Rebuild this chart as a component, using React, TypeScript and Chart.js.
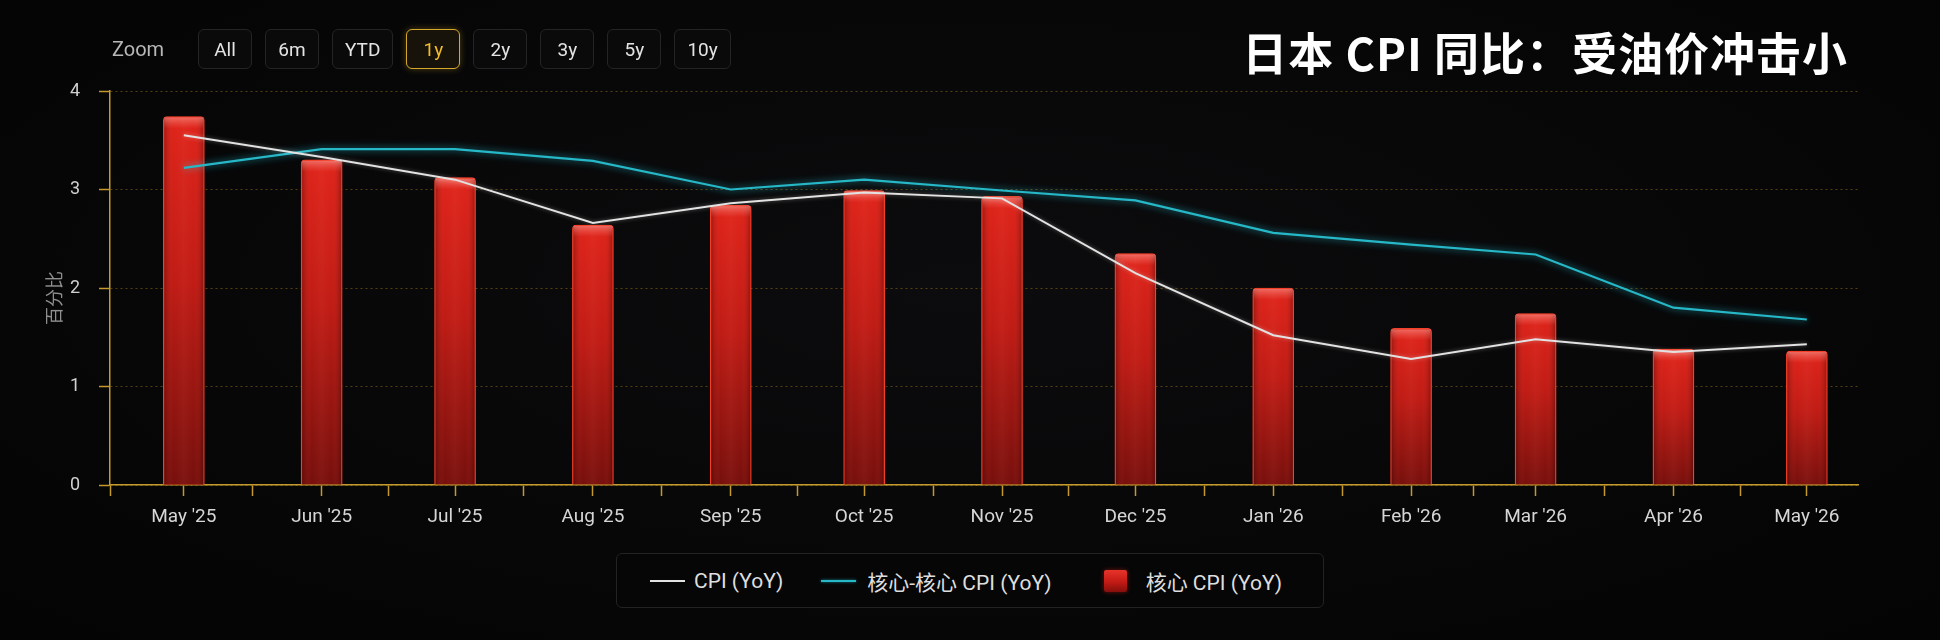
import React, { useEffect, useRef } from "react";
import { Chart, registerables } from "chart.js";

Chart.register(...registerables);

// ---------- data ----------
const categories = [
  "May '25", "Jun '25", "Jul '25", "Aug '25", "Sep '25", "Oct '25", "Nov '25",
  "Dec '25", "Jan '26", "Feb '26", "Mar '26", "Apr '26", "May '26",
];
const monthDates = [
  "2025-05-01", "2025-06-01", "2025-07-01", "2025-08-01", "2025-09-01", "2025-10-01",
  "2025-11-01", "2025-12-01", "2026-01-01", "2026-02-01", "2026-03-01", "2026-04-01",
  "2026-05-01",
];
const cpiYoY = [3.55, 3.33, 3.1, 2.66, 2.86, 2.97, 2.91, 2.15, 1.52, 1.28, 1.48, 1.35, 1.43];
const coreCoreYoY = [3.22, 3.41, 3.41, 3.29, 3.0, 3.1, 2.99, 2.89, 2.56, 2.44, 2.34, 1.8, 1.68];
const coreYoY = [3.74, 3.3, 3.12, 2.64, 2.84, 2.99, 2.93, 2.35, 2.0, 1.59, 1.74, 1.38, 1.36];
const yTicks = [0, 1, 2, 3, 4];
const seriesNames = ["CPI (YoY)", "核心-核心 CPI (YoY)", "核心 CPI (YoY)"];
const zoomButtons = ["All", "6m", "YTD", "1y", "2y", "3y", "5y", "10y"];
const activeZoom = "1y";
const titleText = "日本 CPI 同比：受油价冲击小";
const yAxisTitle = "百分比";

// axis range in days relative to first month (extra room left / right)
const X_PAD_LEFT = 16.6;
const X_PAD_RIGHT = 11.5;

const DAY = 86400000;
const dayIdx = monthDates.map((d) => (Date.parse(d) - Date.parse(monthDates[0])) / DAY);

const GOLD = "#c49a2c";
const WHITE_LINE = "#e2e2e2";
const TEAL = "#27b8c8";
const FONT = 'Roboto, "Noto Sans CJK SC", sans-serif';

const glowPlugin = {
  id: "glow",
  beforeDatasetDraw(chart: any, args: any) {
    const ds = chart.data.datasets[args.index];
    const ctx = chart.ctx;
    ctx.save();
    if (ds._glow) {
      ctx.shadowColor = ds._glow;
      ctx.shadowBlur = ds._glowBlur || 8;
    }
  },
  afterDatasetDraw(chart: any, args: any) {
    const ctx = chart.ctx;
    ctx.restore();
    const ds = chart.data.datasets[args.index];
    if (ds.type !== "bar") return;
    const meta = chart.getDatasetMeta(args.index);
    meta.data.forEach((el: any) => {
      const { x, y, base, width } = el.getProps(["x", "y", "base", "width"], true);
      const l = x - width / 2;
      const r = x + width / 2;
      ctx.save();
      ctx.beginPath();
      ctx.rect(l + 1, y + 1, width - 2, base - y - 1);
      ctx.clip();
      const hg = ctx.createLinearGradient(l, 0, r, 0);
      hg.addColorStop(0, "rgba(40,0,0,0.38)");
      hg.addColorStop(0.25, "rgba(255,80,60,0.04)");
      hg.addColorStop(0.5, "rgba(255,110,90,0.10)");
      hg.addColorStop(0.75, "rgba(255,80,60,0.04)");
      hg.addColorStop(1, "rgba(40,0,0,0.38)");
      ctx.fillStyle = hg;
      ctx.fillRect(l, y, width, base - y);
      const tg = ctx.createLinearGradient(0, y, 0, y + 12);
      tg.addColorStop(0, "rgba(255,190,180,0.5)");
      tg.addColorStop(1, "rgba(255,140,130,0)");
      ctx.fillStyle = tg;
      ctx.fillRect(l, y, width, 12);
      ctx.restore();
    });
  },
};

export default function App() {
  const ref = useRef<HTMLCanvasElement | null>(null);

  useEffect(() => {
    document.body.style.margin = "0";
    document.body.style.background = "#050506";
    const canvas = ref.current;
    if (!canvas) return;

    const xTickValues: number[] = [-X_PAD_LEFT];
    dayIdx.forEach((d, i) => {
      xTickValues.push(d);
      if (i < dayIdx.length - 1) xTickValues.push((d + dayIdx[i + 1]) / 2);
    });

    const chart = new Chart(canvas, {
      type: "bar",
      data: {
        datasets: [
          {
            type: "line",
            label: seriesNames[0],
            data: dayIdx.map((x, i) => ({ x, y: cpiYoY[i] })),
            borderColor: WHITE_LINE,
            borderWidth: 2,
            pointRadius: 0,
            tension: 0,
            order: 0,
            _glow: "rgba(255,255,255,0.35)",
            _glowBlur: 4,
          } as any,
          {
            type: "line",
            label: seriesNames[1],
            data: dayIdx.map((x, i) => ({ x, y: coreCoreYoY[i] })),
            borderColor: TEAL,
            borderWidth: 2.2,
            pointRadius: 0,
            tension: 0,
            order: 1,
            _glow: "rgba(40,220,240,0.7)",
            _glowBlur: 7,
          } as any,
          {
            type: "bar",
            label: seriesNames[2],
            data: dayIdx.map((x, i) => ({ x, y: coreYoY[i] })),
            barThickness: 41,
            borderColor: "#f2432c",
            borderWidth: 1.3,
            borderSkipped: "bottom",
            borderRadius: { topLeft: 4, topRight: 4, bottomLeft: 0, bottomRight: 0 },
            backgroundColor: (c: any) => {
              const ch = c.chart;
              if (!ch.chartArea || c.type !== "data" || !c.parsed) return "#c81b15";
              const top = ch.scales.y.getPixelForValue(c.parsed.y);
              const base = ch.scales.y.getPixelForValue(0);
              const g = ch.ctx.createLinearGradient(0, top, 0, base);
              g.addColorStop(0, "#de231a");
              g.addColorStop(0.45, "#bd1a14");
              g.addColorStop(1, "#700d0b");
              return g;
            },
            order: 2,
            _glow: "rgba(255,40,20,0.3)",
            _glowBlur: 8,
          } as any,
        ],
      },
      options: {
        animation: false,
        responsive: false,
        maintainAspectRatio: false,
        layout: { padding: { top: 91, right: 82, bottom: 110, left: 0 } },
        plugins: {
          legend: { display: false },
          tooltip: { enabled: false },
          title: { display: false },
        },
        scales: {
          x: {
            type: "linear",
            min: -X_PAD_LEFT,
            max: dayIdx[dayIdx.length - 1] + X_PAD_RIGHT,
            offset: false,
            afterBuildTicks: (scale: any) => {
              scale.ticks = xTickValues.map((v) => ({ value: v }));
            },
            afterFit: (scale: any) => {
              scale.height = 45;
            },
            ticks: {
              autoSkip: false,
              maxRotation: 0,
              padding: 10,
              color: "#d6d6d6",
              font: { family: FONT, size: 19 },
              callback: (v: any) => {
                const i = dayIdx.indexOf(Number(v));
                return i >= 0 ? categories[i] : "";
              },
            },
            grid: {
              display: true,
              offset: false,
              drawOnChartArea: false,
              drawTicks: true,
              tickLength: 11,
              tickColor: GOLD,
              tickWidth: 1.5,
              color: GOLD,
            },
            border: { display: true, color: GOLD, width: 1.5 },
          },
          y: {
            min: yTicks[0],
            max: yTicks[yTicks.length - 1],
            afterBuildTicks: (scale: any) => {
              scale.ticks = yTicks.map((v) => ({ value: v }));
            },
            afterFit: (scale: any) => {
              scale.width = 110;
            },
            ticks: {
              padding: 19,
              color: "#d0d0d0",
              font: { family: FONT, size: 18 },
            },
            grid: {
              color: "rgba(150,112,24,0.55)",
              lineWidth: 1,
              drawTicks: true,
              tickLength: 11,
              tickColor: GOLD,
              tickWidth: 1.5,
              tickBorderDash: [],
            },
            border: { display: true, color: GOLD, width: 1.5, dash: [2, 3] },
            title: { display: false },
          },
        },
      },
      plugins: [glowPlugin],
    } as any);

    return () => chart.destroy();
  }, []);

  const btnBase: React.CSSProperties = {
    boxSizing: "border-box",
    height: 40,
    minWidth: 54,
    padding: "0 12px",
    display: "flex",
    alignItems: "center",
    justifyContent: "center",
    borderRadius: 6,
    fontSize: 19,
    fontFamily: FONT,
  };

  const legendSymbols = [
    <div key="s0" style={{ width: 35, height: 2, background: WHITE_LINE }} />,
    <div key="s1" style={{ width: 35, height: 2, background: TEAL, boxShadow: "0 0 3px rgba(40,220,240,0.6)" }} />,
    <div
      key="s2"
      style={{
        width: 23,
        height: 22,
        borderRadius: 2,
        background: "linear-gradient(180deg,#e8342a 0%,#c21a15 55%,#850f0c 100%)",
        boxShadow: "0 0 5px rgba(255,40,20,0.4)",
      }}
    />,
  ];
  const legendGaps = [9, 11, 19];
  const legendAfter = [38, 52, 0];

  return (
    <div
      style={{
        position: "absolute",
        left: 0,
        top: 0,
        width: 1940,
        height: 640,
        overflow: "hidden",
        background: "radial-gradient(ellipse at 50% 45%, #0c0c0e 0%, #060607 70%, #040405 100%)",
        fontFamily: FONT,
      }}
    >
      <canvas ref={ref} width={1940} height={640} style={{ position: "absolute", left: 0, top: 0, width: 1940, height: 640 }} />

      <div
        style={{
          position: "absolute",
          left: 53,
          top: 298,
          transform: "translate(-50%, -50%) rotate(-90deg)",
          color: "#8e8e8e",
          fontSize: 18,
          whiteSpace: "nowrap",
          fontFamily: '"Noto Sans CJK SC", sans-serif',
          lineHeight: "20px",
        }}
      >
        {yAxisTitle}
      </div>

      <div style={{ position: "absolute", left: 112, top: 29, height: 40, display: "flex", alignItems: "center" }}>
        <div style={{ color: "#b8b8b8", fontSize: 20, width: 86 }}>Zoom</div>
        <div style={{ display: "flex", gap: 13 }}>
          {zoomButtons.map((b) => {
            const active = b === activeZoom;
            return (
              <div
                key={b}
                style={{
                  ...btnBase,
                  border: active ? "1.5px solid #d4a82a" : "1px solid #242426",
                  color: active ? "#f0bc2c" : "#e4e4e4",
                  background: active ? "#18130a" : "#0a0a0b",
                  boxShadow: active ? "0 0 7px rgba(212,168,42,0.35)" : "none",
                }}
              >
                {b}
              </div>
            );
          })}
        </div>
      </div>

      <div
        style={{
          position: "absolute",
          right: 1940 - 1848,
          top: 27,
          fontSize: 45,
          lineHeight: "50px",
          letterSpacing: 1,
          fontWeight: 700,
          color: "#ffffff",
          fontFamily: '"Noto Sans CJK SC", Roboto, sans-serif',
          whiteSpace: "nowrap",
        }}
      >
        {titleText}
      </div>

      <div
        style={{
          position: "absolute",
          left: 616,
          top: 553,
          width: 708,
          height: 55,
          boxSizing: "border-box",
          border: "1px solid #232325",
          borderRadius: 6,
          background: "#060607",
          display: "flex",
          alignItems: "center",
          paddingLeft: 33,
        }}
      >
        {seriesNames.map((name, i) => (
          <div key={name} style={{ display: "flex", alignItems: "center", marginRight: legendAfter[i] }}>
            {legendSymbols[i]}
            <span style={{ marginLeft: legendGaps[i], color: "#dedede", fontSize: 21, whiteSpace: "nowrap" }}>{name}</span>
          </div>
        ))}
      </div>
    </div>
  );
}
